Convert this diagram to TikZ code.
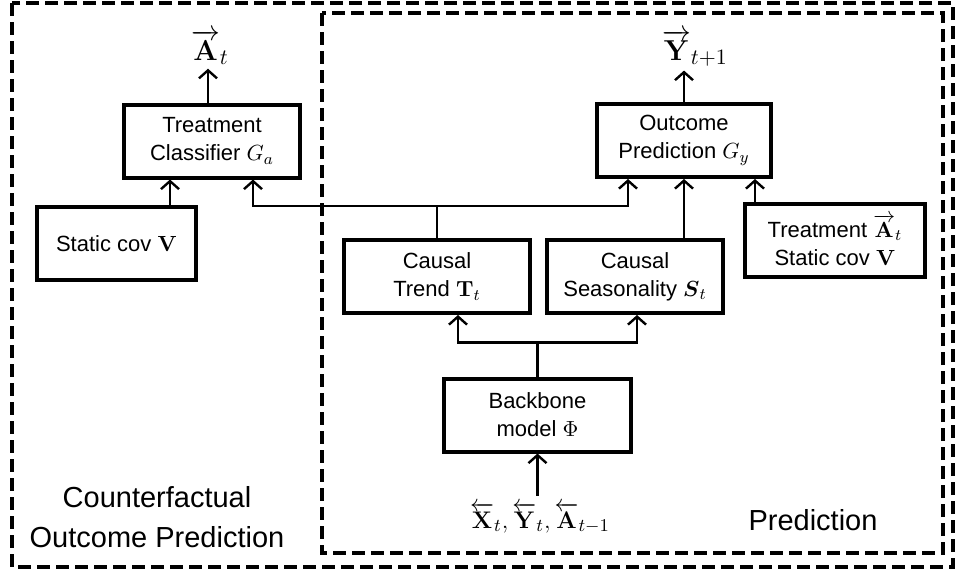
\documentclass[tikz,border=0pt]{standalone}
\usepackage{amsmath}
\usepackage[no-math]{fontspec}
\setmainfont{Liberation Sans}
\usetikzlibrary{arrows.meta}

\begin{document}
\begin{tikzpicture}[x=0.5pt, y=-0.5pt,
    block/.style={draw, line width=2pt, align=center, font=\fontsize{11}{14}\selectfont,
        minimum height=36.5pt, inner sep=2pt},
    link/.style={line width=1.2pt},
    region/.style={line width=2pt, dash pattern=on 6.5pt off 3pt},
    >={Straight Barb[length=4pt,width=9pt]}]
    \useasboundingbox (0,0) rectangle (955,575);

    % Draw the two dashed regions
    \draw[region] (12,3) rectangle (953,567);
    \draw[region] (322,13) rectangle (943,553);

    % Draw the blocks
    \node[block, minimum width=88pt] (cls) at (212,141) {Treatment\\Classifier $G_a$};
    \node[block, minimum width=79.5pt] (scov) at (116.5,243.5) {Static cov $\mathbf{V}$};
    \node[block, minimum width=87pt] (outc) at (684,140.5) {Outcome\\Prediction $G_y$};
    \node[block, minimum width=90pt] (trs) at (835,240) {Treatment $\overrightarrow{\mathbf{A}}_t$\\Static cov $\mathbf{V}$};
    \node[block, minimum width=93pt] (trend) at (437,276.5) {Causal\\Trend $\mathbf{T}_t$};
    \node[block, minimum width=88pt] (seas) at (635,276.5) {Causal\\Seasonality $\boldsymbol{S}_t$};
    \node[block, minimum width=93.5pt] (back) at (537.5,415) {Backbone\\model $\Phi$};

    % Draw the inputs and outputs
    \node[font=\fontsize{15}{18}\selectfont, anchor=base, inner sep=2pt] (at) at (210,60) {$\overrightarrow{\mathbf{A}}_t$};
    \node[font=\fontsize{15}{18}\selectfont, anchor=base, inner sep=2pt] (ynext) at (695,60) {$\overrightarrow{\mathbf{Y}}_{t+1}$};
    \node[font=\fontsize{12.5}{15}\selectfont] (inp) at (540,518) {$\overleftarrow{\mathbf{X}}_t,\overleftarrow{\mathbf{Y}}_t,\overleftarrow{\mathbf{A}}_{t-1}$};

    % Draw the region labels
    \node[font=\fontsize{14.5}{20}\selectfont, align=center] (cflab) at (157,517) {Counterfactual\\Outcome Prediction};
    \node[font=\fontsize{14.5}{20}\selectfont] (predlab) at (813,520) {Prediction};

    % Draw the connectors
    \coordinate (bj) at ([yshift=17pt]back.north);
    \coordinate (tj) at ([yshift=16pt]trend.north);
    \coordinate (cin1) at ([xshift=-21pt]cls.south);
    \coordinate (oin3) at ([xshift=35.5pt]outc.south);
    \draw[link, ->] (inp.north -| back.south) -- (back.south);
    \draw[link] (back.north) -- (bj);
    \draw[link, ->] (bj) -| ([xshift=10.5pt]trend.south);
    \draw[link, ->] (bj) -| ([xshift=1pt]seas.south);
    \draw[link] (trend.north) -- (tj);
    \draw[link, ->] (tj) -| ([xshift=20.5pt]cls.south);
    \draw[link, ->] (tj) -| ([xshift=-28pt]outc.south);
    \draw[link, ->] (seas.north -| outc.south) -- (outc.south);
    \draw[link, ->] (oin3 |- trs.north) -- (oin3);
    \draw[link, ->] (cin1 |- scov.north) -- (cin1);
    \draw[link, ->] ([xshift=-2pt]cls.north) -- ([xshift=-2pt]cls.north |- at.south);
    \draw[link, ->] (outc.north) -- (outc.north |- ynext.south);
\end{tikzpicture}
\end{document}
